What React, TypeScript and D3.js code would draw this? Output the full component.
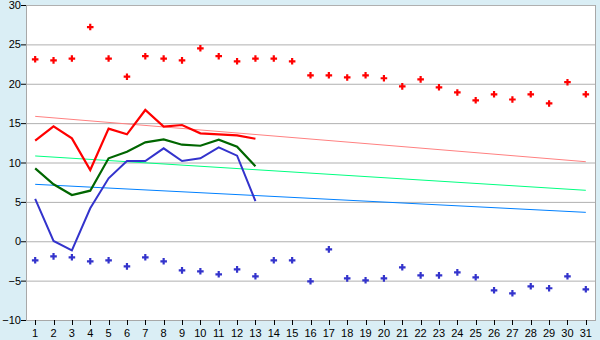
import React from "react";
import * as d3 from "d3";

const days = d3.range(1, 32).map(String);
const maxPoints = [23.1, 22.97, 23.2, 27.2, 23.2, 20.9, 23.5, 23.2, 22.97, 24.5, 23.5, 22.85, 23.2, 23.2, 22.85, 21.07, 21.07, 20.8, 21.07, 20.7, 19.67, 20.56, 19.55, 18.9, 17.9, 18.66, 18.0, 18.66, 17.5, 20.2, 18.66];
const minPoints = [-2.42, -1.92, -2.04, -2.55, -2.42, -3.19, -2.04, -2.55, -3.7, -3.82, -4.2, -3.57, -4.45, -2.42, -2.42, -5.09, -1.03, -4.71, -4.96, -4.71, -3.31, -4.33, -4.33, -3.95, -4.58, -6.23, -6.61, -5.72, -5.97, -4.45, -6.1];
const redLine = [12.77, 14.59, 13.07, 9.05, 14.3, 13.58, 16.67, 14.55, 14.76, 13.7, 13.58, 13.45, 13.02];
const greenLine = [9.26, 7.23, 5.87, 6.42, 10.53, 11.37, 12.56, 12.94, 12.26, 12.13, 12.9, 12.01, 9.51];
const blueLine = [5.37, 0.03, -1.15, 4.18, 7.99, 10.19, 10.19, 11.8, 10.19, 10.53, 11.93, 10.87, 5.11];
const pinkTrend = [15.86, 10.1];
const greenTrend = [10.83, 6.47];
const blueTrend = [7.23, 3.67];
const yTicks = [-10, -5, 0, 5, 10, 15, 20, 25, 30];

const W = 600, H = 340;
const L = 26, R = 595, T = 5, B = 320;

export default function App() {
  const x = d3.scaleBand<string>().domain(days).range([L, R]);
  const cx = (i: number) => (x(days[i]) as number) + x.bandwidth() / 2;
  const y = d3.scaleLinear().domain([-10, 30]).range([B, T]);
  const line = d3.line<number>().x((_, i) => cx(i)).y((d) => y(d));
  const trend = (a: number[]) => `M${cx(0)},${y(a[0])}L${cx(30)},${y(a[1])}`;
  const cross = d3.symbol().type(d3.symbolCross).size(24)();
  const font = "Liberation Sans, Arial, sans-serif";
  return (
    <svg width={W} height={H} style={{ position: "absolute", left: 0, top: 0, display: "block" }}>
      <rect x={0} y={0} width={W} height={H} fill="#daeef5" />
      <rect x={L} y={T} width={R - L} height={B - T} fill="#ffffff" />
      {yTicks.map((t) => (
        <g key={t}>
          <line x1={L} x2={R} y1={y(t) + 0.5} y2={y(t) + 0.5} stroke="#b0b0b0" strokeWidth={1} />
          <line x1={L - 5} x2={L} y1={y(t) + 0.5} y2={y(t) + 0.5} stroke="#000" strokeWidth={1} />
          <text x={L - 5} y={y(t) + 4} textAnchor="end" fontSize={11} fontFamily={font} fill="#000">
            {t < 0 ? "\u2212" + Math.abs(t) : t}
          </text>
        </g>
      ))}
      <line x1={L + 0.5} x2={L + 0.5} y1={T} y2={B} stroke="#a8a8a8" />
      <line x1={R + 0.5} x2={R + 0.5} y1={T} y2={B + 1} stroke="#a8a8a8" />
      <line x1={L} x2={R} y1={B + 0.5} y2={B + 0.5} stroke="#a8a8a8" />
      {days.map((d, i) => (
        <g key={d}>
          <line x1={Math.round(cx(i)) + 0.5} x2={Math.round(cx(i)) + 0.5} y1={B} y2={B + 5} stroke="#000" />
          <text x={cx(i)} y={337} textAnchor="middle" fontSize={11} fontFamily={font} fill="#000">{d}</text>
        </g>
      ))}
      <path d={trend(pinkTrend)} stroke="#ff8080" strokeWidth={1} fill="none" />
      <path d={trend(greenTrend)} stroke="#00ff80" strokeWidth={1} fill="none" />
      <path d={trend(blueTrend)} stroke="#0080ff" strokeWidth={1} fill="none" />
      <path d={line(blueLine) || ""} stroke="#3333cc" strokeWidth={2} fill="none" />
      <path d={line(greenLine) || ""} stroke="#006600" strokeWidth={2.2} fill="none" />
      <path d={line(redLine) || ""} stroke="#ff0000" strokeWidth={2.2} fill="none" />
      {maxPoints.map((v, i) => (
        <path key={"mx" + i} d={cross || ""} transform={`translate(${cx(i)},${y(v)})`} fill="#ff0000" />
      ))}
      {minPoints.map((v, i) => (
        <path key={"mn" + i} d={cross || ""} transform={`translate(${cx(i)},${y(v)})`} fill="#3333cc" />
      ))}
    </svg>
  );
}
